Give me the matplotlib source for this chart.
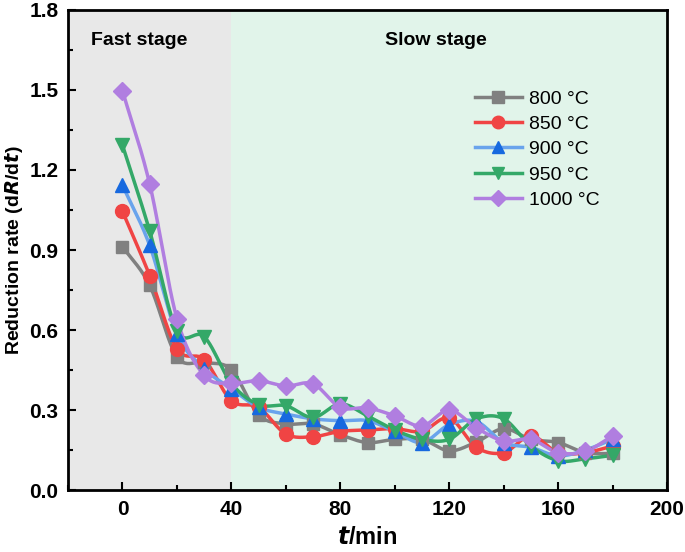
import numpy as np
import matplotlib
matplotlib.use("Agg")
import matplotlib.pyplot as plt
from matplotlib.lines import Line2D
from matplotlib.ticker import MultipleLocator

plt.rcParams["font.family"] = ["Liberation Sans", "DejaVu Sans"]

# time (min) and reduction rate per temperature
time_min = [0, 10, 20, 30, 40, 50, 60, 70, 80, 90, 100, 110, 120, 130, 140, 150, 160, 170, 180]
rate_800 = [0.913, 0.767, 0.50, 0.479, 0.451, 0.282, 0.248, 0.248, 0.207, 0.178, 0.19, 0.19, 0.147, 0.18, 0.23, 0.19, 0.178, 0.14, 0.137]
rate_850 = [1.045, 0.804, 0.53, 0.489, 0.335, 0.31, 0.21, 0.20, 0.22, 0.225, 0.23, 0.22, 0.27, 0.16, 0.14, 0.203, 0.14, 0.14, 0.165]
rate_900 = [1.143, 0.917, 0.586, 0.455, 0.38, 0.31, 0.285, 0.267, 0.26, 0.26, 0.22, 0.178, 0.245, 0.257, 0.178, 0.16, 0.128, 0.15, 0.19]
rate_950 = [1.293, 0.971, 0.598, 0.575, 0.40, 0.32, 0.316, 0.272, 0.323, 0.278, 0.225, 0.19, 0.19, 0.267, 0.267, 0.165, 0.11, 0.117, 0.13]
rate_1000 = [1.497, 1.147, 0.643, 0.43, 0.40, 0.41, 0.39, 0.398, 0.31, 0.308, 0.278, 0.24, 0.30, 0.233, 0.184, 0.19, 0.14, 0.145, 0.203]
labels = ["800 °C", "850 °C", "900 °C", "950 °C", "1000 °C"]

series = [rate_800, rate_850, rate_900, rate_950, rate_1000]
line_colors = ["#808080", "#f04444", "#69a3ec", "#34a868", "#b07ee0"]
marker_colors = ["#808080", "#f04444", "#1769df", "#34a868", "#b07ee0"]
markers = ["s", "o", "^", "v", "D"]
msizes = [9, 10, 10, 10, 9]


def smooth_line(x, y, n=24):
    """Catmull-Rom curve through the points (only used to draw the line)."""
    x = np.asarray(x, float)
    y = np.asarray(y, float)
    mx = np.gradient(x)
    my = np.gradient(y)
    xs, ys = [], []
    for i in range(len(x) - 1):
        t = np.linspace(0, 1, n, endpoint=False)
        h00 = 2 * t ** 3 - 3 * t ** 2 + 1
        h10 = t ** 3 - 2 * t ** 2 + t
        h01 = -2 * t ** 3 + 3 * t ** 2
        h11 = t ** 3 - t ** 2
        xs.extend(h00 * x[i] + h10 * mx[i] + h01 * x[i + 1] + h11 * mx[i + 1])
        ys.extend(h00 * y[i] + h10 * my[i] + h01 * y[i + 1] + h11 * my[i + 1])
    xs.append(x[-1])
    ys.append(y[-1])
    return xs, ys


fig = plt.figure(figsize=(6.85, 5.52), dpi=100)
ax = fig.add_axes([0.0993, 0.1123, 0.8745, 0.8696])

ax.axvspan(-20, 40, color="#e8e8e8", zorder=0, lw=0)
ax.axvspan(40, 200, color="#e1f4ea", zorder=0, lw=0)

for ys, lc, mc, mk, ms in zip(series, line_colors, marker_colors, markers, msizes):
    sx, sy = smooth_line(time_min, ys)
    ax.plot(sx, sy, color=lc, lw=2.5, zorder=2)
    ax.plot(time_min, ys, ls="none", marker=mk, ms=ms, color=mc, mec=mc, zorder=3)

ax.text(6.2, 1.687, "Fast stage", ha="center", va="center", fontsize=14, fontweight="bold")
ax.text(115, 1.687, "Slow stage", ha="center", va="center", fontsize=14, fontweight="bold")

ax.set_xlim(-20, 200)
ax.set_ylim(0, 1.8)
ax.set_xticks([0, 40, 80, 120, 160, 200])
ax.xaxis.set_minor_locator(MultipleLocator(20))
ax.yaxis.set_major_locator(MultipleLocator(0.3))
ax.yaxis.set_minor_locator(MultipleLocator(0.15))
ax.yaxis.set_major_formatter(plt.FormatStrFormatter("%.1f"))
ax.tick_params(which="both", direction="in", width=1.5)
ax.tick_params(which="major", length=6, labelsize=15, pad=7)
ax.tick_params(which="minor", length=3.5)
for lab in ax.get_xticklabels() + ax.get_yticklabels():
    lab.set_fontweight("bold")
for sp in ax.spines.values():
    sp.set_linewidth(2)

ax.set_xlabel(r"$\boldsymbol{t}$/min", fontsize=17, fontweight="bold", labelpad=5)
ax.set_ylabel(r"Reduction rate (d$\boldsymbol{R}$/d$\boldsymbol{t}$)", fontsize=14, fontweight="bold", labelpad=3)

handles = [
    Line2D([0], [0], color=lc, lw=2.5, marker=mk, ms=ms - 1, mfc=mc, mec=mc)
    for lc, mc, mk, ms in zip(line_colors, marker_colors, markers, msizes)
]
ax.legend(handles, labels, loc="upper left", bbox_to_anchor=(0.65, 0.87), frameon=False,
          fontsize=14, handlelength=2.4, labelspacing=0.4, handletextpad=0.4)

fig.savefig("out.png", dpi=100)
